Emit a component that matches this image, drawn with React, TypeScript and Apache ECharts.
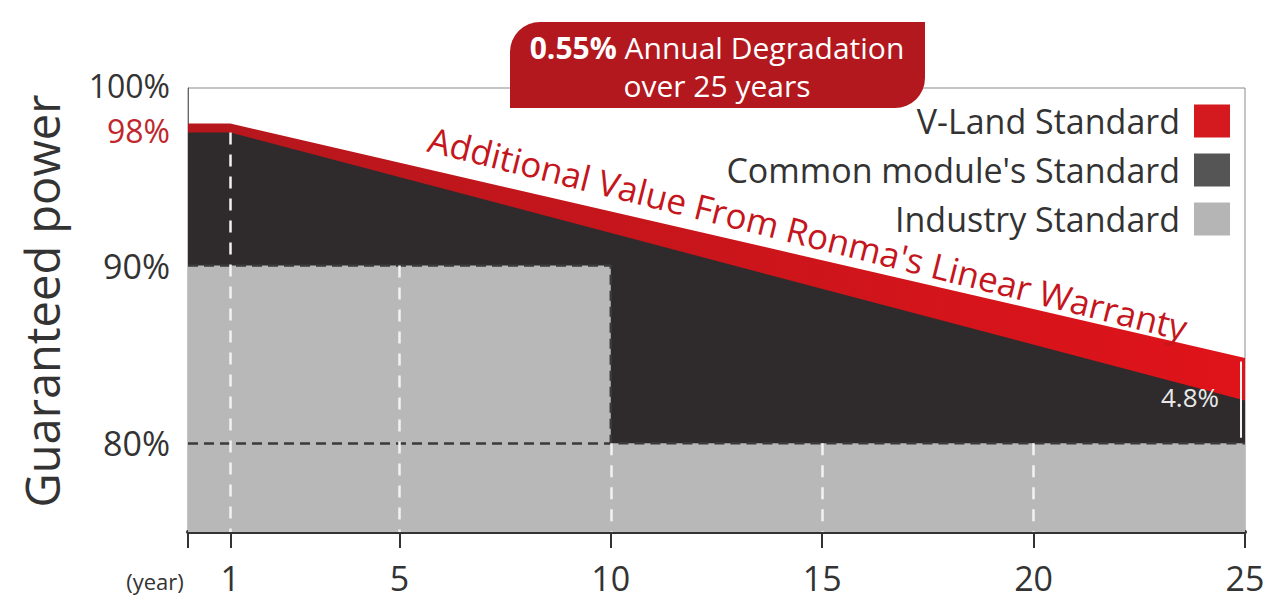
import React, { useEffect, useRef } from "react";
import * as echarts from "echarts";

// ---- data ----
const years = [0, 1, 5, 10, 15, 20, 25];
const xLabelYears = [1, 5, 10, 15, 20, 25];
const yTickValues = [80, 90, 98, 100];
const vlandX = [0, 1, 25];
const vlandY = [98, 98, 84.8];
const commonX = [0, 1, 25];
const commonY = [97.5, 97.5, 82.4];
const industryX = [0, 10, 10, 25];
const industryY = [90, 90, 80, 80];
const seriesNames = ["V-Land Standard", "Common module's Standard", "Industry Standard"];
const gapLabel = "4.8%";

const FONT = "'Open Sans', 'Noto Sans', sans-serif";
const DARK = "#2f2a2b";
const LIGHT = "#b8b8b8";

function pairs(xs: number[], ys: number[]) {
  return xs.map((x, i) => [x, ys[i]]);
}

function industryAt(x: number) {
  let v = industryY[0];
  for (let i = 0; i < industryX.length; i++) {
    if (industryX[i] <= x) v = industryY[i];
  }
  return v;
}
function commonAt(x: number) {
  for (let i = 0; i < commonX.length - 1; i++) {
    if (x >= commonX[i] && x <= commonX[i + 1]) {
      const t = (x - commonX[i]) / (commonX[i + 1] - commonX[i]);
      return commonY[i] + t * (commonY[i + 1] - commonY[i]);
    }
  }
  return commonY[commonY.length - 1];
}

export default function App() {
  const ref = useRef<HTMLDivElement>(null);
  useEffect(() => {
    document.body.style.margin = "0";
    if (!ref.current) return;
    const chart = echarts.init(ref.current, null, { renderer: "svg" });
    const yMin = 75;
    const lastX = years[years.length - 1];
    const whiteLines = years
      .filter((y) => y > 0 && y < lastX)
      .map((y) => {
        const top = y === 1 ? commonAt(y) : industryAt(y + 0.001);
        return [{ coord: [y, top] }, { coord: [y, yMin] }];
      });
    const option: any = {
      animation: false,
      textStyle: { fontFamily: FONT },
      grid: {
        left: 188,
        right: 26,
        top: 88,
        bottom: 71,
        show: true,
        borderColor: "#8a8a8a",
        borderWidth: 1,
      },
      legend: {
        orient: "vertical",
        right: 41,
        top: 104,
        padding: 0,
        align: "right",
        itemWidth: 36,
        itemHeight: 33,
        itemGap: 15,
        selectedMode: false,
        textStyle: { fontSize: 34, color: "#333", fontFamily: FONT, padding: [0, 9, 0, 0] },
        data: [
          { name: seriesNames[0], icon: "rect", itemStyle: { color: "#d41a1f" } },
          { name: seriesNames[1], icon: "rect", itemStyle: { color: "#555555" } },
          { name: seriesNames[2], icon: "rect", itemStyle: { color: "#b5b5b5" } },
        ],
      },
      xAxis: {
        type: "value",
        min: 0,
        max: 25,
        splitLine: { show: false },
        axisLine: { show: true, lineStyle: { color: "#333", width: 4 } },
        axisTick: { show: true, customValues: years, length: 16, lineStyle: { color: "#333", width: 2 } },
        axisLabel: {
          customValues: xLabelYears,
          fontSize: 34,
          color: "#333",
          margin: 29,
          fontFamily: FONT,
        },
      },
      yAxis: {
        type: "value",
        min: yMin,
        max: 100,
        splitLine: { show: false },
        axisLine: { show: true, lineStyle: { color: "#666", width: 1 } },
        axisTick: { show: false },
        axisLabel: {
          customValues: yTickValues,
          fontSize: 34,
          color: "#333",
          margin: 18,
          fontFamily: FONT,
          formatter: (v: number) => (v === 98 ? "{r|98%}" : v === 100 ? "{t|100%}" : v + "%"),
          rich: {
            r: { color: "#c0272d", fontSize: 32, fontFamily: FONT, padding: [14, 0, 0, 0] },
            t: { color: "#333", fontSize: 32, fontFamily: FONT, padding: [0, 0, 6, 0] },
          },
        },
      },
      series: [
        {
          name: seriesNames[0],
          type: "line",
          data: pairs(vlandX, vlandY),
          showSymbol: false,
          color: "#d41a1f",
          lineStyle: { width: 0 },
          areaStyle: {
            origin: "start",
            opacity: 1,
            color: {
              type: "linear",
              x: 0,
              y: 0,
              x2: 1,
              y2: 0,
              colorStops: [
                { offset: 0, color: "#b4171d" },
                { offset: 1, color: "#e0131a" },
              ],
            },
          },
          z: 1,
        },
        {
          name: seriesNames[1],
          type: "line",
          data: pairs(commonX, commonY),
          showSymbol: false,
          color: "#555555",
          lineStyle: { width: 0 },
          areaStyle: { origin: "start", opacity: 1, color: DARK },
          z: 2,
        },
        {
          name: seriesNames[2],
          type: "line",
          data: pairs(industryX, industryY),
          showSymbol: false,
          color: "#b5b5b5",
          lineStyle: { width: 2.5, color: "#3a3a3a", type: [10, 6] },
          areaStyle: { origin: "start", opacity: 1, color: LIGHT },
          z: 3,
          markLine: {
            silent: true,
            symbol: ["none", "none"],
            label: { show: false },
            data: [
              [
                { coord: [0, industryY[industryY.length - 1]], lineStyle: { color: "#3a3a3a", width: 2.5, type: [10, 6] } },
                { coord: [industryX[1], industryY[industryY.length - 1]] },
              ],
              ...whiteLines.map((l) => [
                { ...l[0], lineStyle: { color: "#f2f2f2", width: 2.5, type: [12, 10] } },
                l[1],
              ]),
              [
                { coord: [24.9, vlandY[vlandY.length - 1] - 0.2], lineStyle: { color: "#f4f4f4", width: 2, type: "solid" } },
                { coord: [24.9, industryY[industryY.length - 1] + 0.3] },
              ],
            ],
          },
        },
      ],
      graphic: [
        {
          type: "text",
          rotation: Math.PI / 2,
          x: 42,
          y: 301,
          style: {
            text: "Guaranteed power",
            fontSize: 47,
            fill: "#333",
            fontFamily: FONT,
            align: "center",
            verticalAlign: "middle",
          },
        },
        {
          type: "text",
          x: 155,
          y: 581,
          style: {
            text: "(year)",
            fontSize: 22,
            fill: "#333",
            fontFamily: FONT,
            align: "center",
            verticalAlign: "middle",
          },
        },
        {
          type: "rect",
          shape: { x: 510, y: 22, width: 415, height: 86, r: [30, 0, 30, 0] },
          style: { fill: "#b2181e" },
          z: 100,
        },
        {
          type: "text",
          x: 717,
          y: 47,
          z: 101,
          style: {
            text: "{b|0.55%} Annual Degradation",
            rich: { b: { fontWeight: "bold", fontSize: 30, fill: "#fff", fontFamily: FONT } },
            fontSize: 30,
            fill: "#fff",
            fontFamily: FONT,
            align: "center",
            verticalAlign: "middle",
          },
        },
        {
          type: "text",
          x: 717,
          y: 85,
          z: 101,
          style: {
            text: "over 25 years",
            fontSize: 30,
            fill: "#fff",
            fontFamily: FONT,
            align: "center",
            verticalAlign: "middle",
          },
        },
        {
          type: "text",
          x: 808,
          y: 233,
          rotation: -0.245,
          z: 101,
          style: {
            text: "Additional Value From Ronma's Linear Warranty",
            fontSize: 35,
            fill: "#c4161c",
            fontFamily: FONT,
            align: "center",
            verticalAlign: "middle",
          },
        },
        {
          type: "text",
          x: 1190,
          y: 397,
          z: 101,
          style: {
            text: gapLabel,
            fontSize: 26,
            fill: "#e8e8e8",
            fontFamily: FONT,
            align: "center",
            verticalAlign: "middle",
          },
        },
      ],
    };
    chart.setOption(option);
    return () => chart.dispose();
  }, []);
  return <div ref={ref} style={{ width: 1271, height: 603 }} />;
}
